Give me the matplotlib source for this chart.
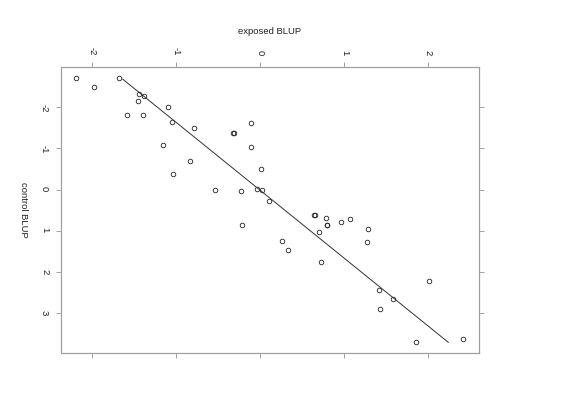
import matplotlib
matplotlib.use("Agg")
import matplotlib.pyplot as plt

# BLUP estimates
exposed = [-2.19, -1.976, -1.679, -1.44, -1.388, -1.456, -1.59, -1.40, -1.099, -1.055,
           -0.789, -1.162, -0.833, -1.036, -0.543,
           -0.111, -0.329, -0.31, -0.107, 0.005, -0.23, -0.043, 0.02, 0.107, -0.218,
           0.636, 0.651, 0.786, 0.79, 0.797, 0.964, 1.064, 0.699, 0.255, 0.333, 0.726,
           1.282, 1.274, 1.417, 1.583, 1.429, 2.008, 1.857, 2.413]
control = [-2.72, -2.49, -2.72, -2.32, -2.28, -2.15, -1.82, -1.80, -2.005, -1.63,
           -1.49, -1.09, -0.70, -0.39, 0.01,
           -1.62, -1.38, -1.38, -1.03, -0.49, 0.03, -0.02, 0.02, 0.27, 0.86,
           0.61, 0.61, 0.70, 0.87, 0.87, 0.79, 0.71, 1.03, 1.25, 1.46, 1.76,
           0.956, 1.28, 2.43, 2.655, 2.91, 2.226, 3.706, 3.62]

# fitted line end points
fit_x = [-1.638, 2.238]
fit_y = [-2.68, 3.706]

x_ticks = [-2, -1, 0, 1, 2]
y_ticks = [-2, -1, 0, 1, 2, 3]

plt.rcParams['font.family'] = ['Liberation Sans', 'DejaVu Sans']
W, H = 561, 397
fig = plt.figure(figsize=(W / 100, H / 100), dpi=100)
ax = fig.add_axes([61 / W, 1 - 353 / H, (479 - 61) / W, (353 - 67) / H])

ax.plot(exposed, control, 'o', mfc='none', mec='#222222', ms=3.3, mew=0.6)
ax.plot(fit_x, fit_y, '-', color='#333333', lw=0.7)

ax.set_xlim(-2.373, 2.604)
ax.set_ylim(3.966, -2.976)
ax.set_xticks(x_ticks)
ax.set_yticks(y_ticks)
ax.set_xticklabels([str(v) for v in x_ticks])
ax.set_yticklabels([str(v) for v in y_ticks])

grey = '#a0a0a0'
for sp in ax.spines.values():
    sp.set_color(grey)
    sp.set_linewidth(0.9)
ax.tick_params(top=True, bottom=True, left=True, right=True,
               labeltop=True, labelbottom=False, labelleft=True, labelright=False,
               direction='out', length=3.6, width=0.7, color=grey,
               labelsize=6.8, labelcolor='#222222')
ax.tick_params(axis='x', pad=4.5, labelrotation=-90)
ax.tick_params(axis='y', pad=5, labelrotation=-90)

fig.text(270 / W, 1 - 31 / H, 'exposed BLUP', ha='center', va='center',
         fontsize=6.8, color='#222222')
fig.text(23 / W, 1 - 210 / H, 'control BLUP', ha='center', va='center',
         rotation=-90, fontsize=6.8, color='#222222')

fig.savefig('out.png', dpi=100)
